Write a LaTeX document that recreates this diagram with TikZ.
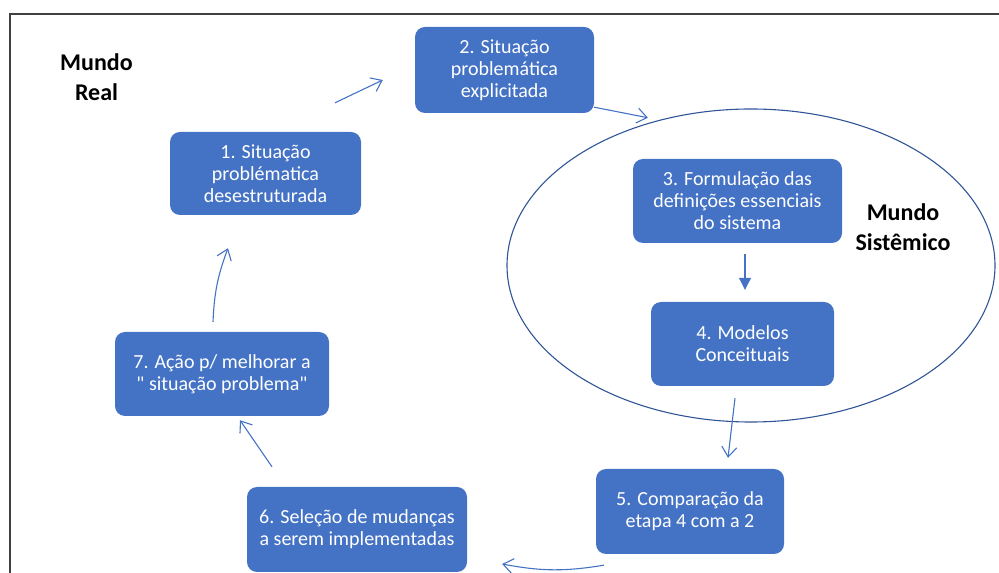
\documentclass[tikz,border=0pt]{standalone}
\usepackage{fontspec}
\setmainfont{Carlito}
\usetikzlibrary{shapes.geometric,arrows.meta}
\definecolor{boxblue}{HTML}{4472C4}
\definecolor{ringblue}{HTML}{2F5597}
\definecolor{framegray}{HTML}{404040}

\begin{document}
\begin{tikzpicture}[x=1pt, y=1pt,
  main/.style = {fill=boxblue, text=white, rounded corners=10pt, align=center, inner sep=0pt, font=\fontsize{20}{22}\selectfont},
  world/.style = {align=center, font=\bfseries\fontsize{24}{30}\selectfont},
  arr/.style = {draw=boxblue, line width=1.1pt, -{Straight Barb[length=10pt,width=15pt]}}]
\useasboundingbox (0,0) rectangle (999,573);
\draw[framegray, line width=1.5pt] (10,0) -- (10,559) -- (999,559);
\node[draw=ringblue, line width=1.1pt, ellipse, minimum width=488pt, minimum height=313pt, inner sep=0pt] (ring) at (751,307.5) {};
\node[main, minimum width=191pt, minimum height=83pt] (1) at (265.5,399.5) {1. Situação\\problématica\\desestruturada};
\node[main, minimum width=179pt, minimum height=86pt] (2) at (504.5,503) {2. Situação\\problemática\\explicitada};
\node[main, minimum width=209pt, minimum height=84pt] (3) at (737.5,372) {3. Formulação das\\definições essenciais\\do sistema};
\node[main, minimum width=183pt, minimum height=84pt] (4) at (742.5,229) {4. Modelos\\Conceituais};
\node[main, minimum width=188pt, minimum height=85pt] (5) at (690,61.5) {5. Comparação da\\etapa 4 com a 2};
\node[main, minimum width=220pt, minimum height=85pt] (6) at (357,43.5) {6. Seleção de mudanças\\a serem implementadas};
\node[main, minimum width=214pt, minimum height=84pt] (7) at (222,199) {7. Ação p/ melhorar a\\\textquotedbl{} situação problema\textquotedbl};
\node[world] (real) at (96.5,496) {Mundo\\Real};
\node[world] (sistemico) at (903,346) {Mundo\\Sistêmico};
\draw[arr] ([xshift=69.5pt,yshift=29pt]1.north) -- ([xshift=-32pt,yshift=-10pt]2.west);
\draw[arr] ([yshift=6pt]2.south east) -- ([xshift=-12pt,yshift=2pt]ring.122);
\draw[arr, -{Triangle[length=12pt,width=12pt]}] ([xshift=7.5pt,yshift=-11pt]3.south) -- ([xshift=2.5pt,yshift=12pt]4.north);
\draw[arr] ([xshift=-7.5pt,yshift=-12pt]4.south) -- ([xshift=38pt,yshift=11pt]5.north);
\draw[arr] ([xshift=8pt,yshift=-11pt]5.south west) to[bend left=10] ([xshift=35pt,yshift=-34.5pt]6.east);
\draw[arr] ([xshift=-85pt,yshift=20pt]6.north) -- ([xshift=18pt,yshift=-4pt]7.south);
\draw[arr] ([xshift=-9pt,yshift=10pt]7.north) to[bend left=9] ([xshift=-37.5pt,yshift=-33pt]1.south);
\end{tikzpicture}
\end{document}
